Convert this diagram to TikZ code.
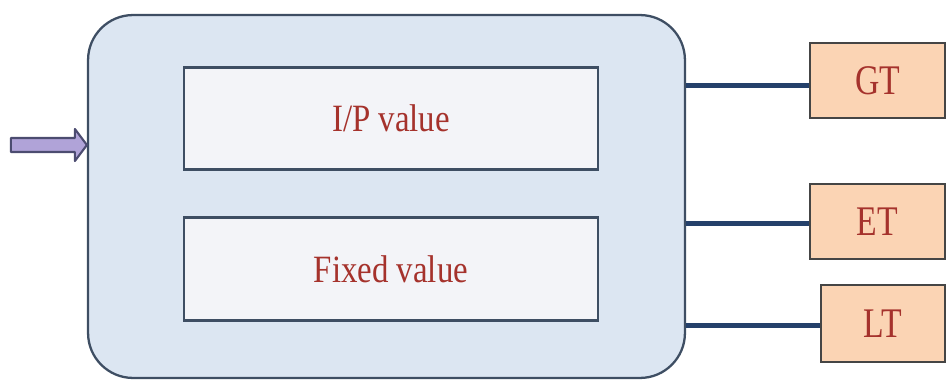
\documentclass[tikz,border=0pt]{standalone}
\usepackage{fontspec}
\setmainfont{Liberation Serif}
\usetikzlibrary{calc}
\definecolor{mainfill}{HTML}{DCE6F2}
\definecolor{mainline}{HTML}{3E4E63}
\definecolor{innerfill}{HTML}{F3F4F8}
\definecolor{txtred}{HTML}{A5322C}
\definecolor{orfill}{HTML}{FBD4B4}
\definecolor{orline}{HTML}{454545}
\definecolor{navy}{HTML}{24406A}
\definecolor{arrfill}{HTML}{B0A3D8}
\definecolor{arrline}{HTML}{4C4C70}
\tikzset{
  px/.style={x=0.02cm,y=-0.02cm},
  mainbox/.style={draw=mainline,fill=mainfill,line width=1.3pt,rounded corners=0.9cm,
    minimum width=11.94cm,minimum height=7.26cm,inner sep=0pt},
  valbox/.style={draw=mainline,fill=innerfill,line width=1.6pt,
    minimum width=8.28cm,minimum height=2.05cm,inner sep=0pt,text=txtred,
    font=\fontsize{22}{26}\selectfont},
  tbox/.style={draw=orline,fill=orfill,line width=1.5pt,
    minimum height=1.5cm,inner sep=0pt,text=txtred,
    font=\fontsize{24}{28}\selectfont},
  conn/.style={draw=navy,line width=2.3pt},
}
\begin{document}
\begin{tikzpicture}[px]
\useasboundingbox (0,0) rectangle (946,385);
\node[mainbox] (main) at (386.5,196.5) {};
\node[valbox] (ip) at (391,118.5) {\scalebox{0.85}[1]{I/P value}};
\node[valbox] (fx) at (391,269) {\scalebox{0.85}[1]{Fixed value}};
\node[tbox,minimum width=2.7cm] (gt) at (877.5,80.5) {\scalebox{0.8}[1]{GT}};
\node[tbox,minimum width=2.7cm] (et) at (877.5,221.5) {\scalebox{0.8}[1]{ET}};
\node[tbox,minimum width=2.48cm,minimum height=1.54cm] (lt) at (883,323.5) {\scalebox{0.8}[1]{LT}};
\draw[conn] ($(main.east |- gt.west)+(0,5)$) -- ($(gt.west)+(0,5)$);
\draw[conn] ($(main.east |- et.west)+(0,2)$) -- ($(et.west)+(0,2)$);
\draw[conn] ($(main.east |- lt.west)+(0,2)$) -- ($(lt.west)+(0,2)$);
\coordinate (tip) at (main.west |- 0,145);
\draw[draw=arrline,fill=arrfill,line width=1.2pt,line join=round]
  ($(tip)+(-76,-7)$) -- ($(tip)+(-12,-7)$) -- ($(tip)+(-12,-16)$) -- (tip)
  -- ($(tip)+(-12,16)$) -- ($(tip)+(-12,7)$) -- ($(tip)+(-76,7)$) -- cycle;
\end{tikzpicture}
\end{document}
